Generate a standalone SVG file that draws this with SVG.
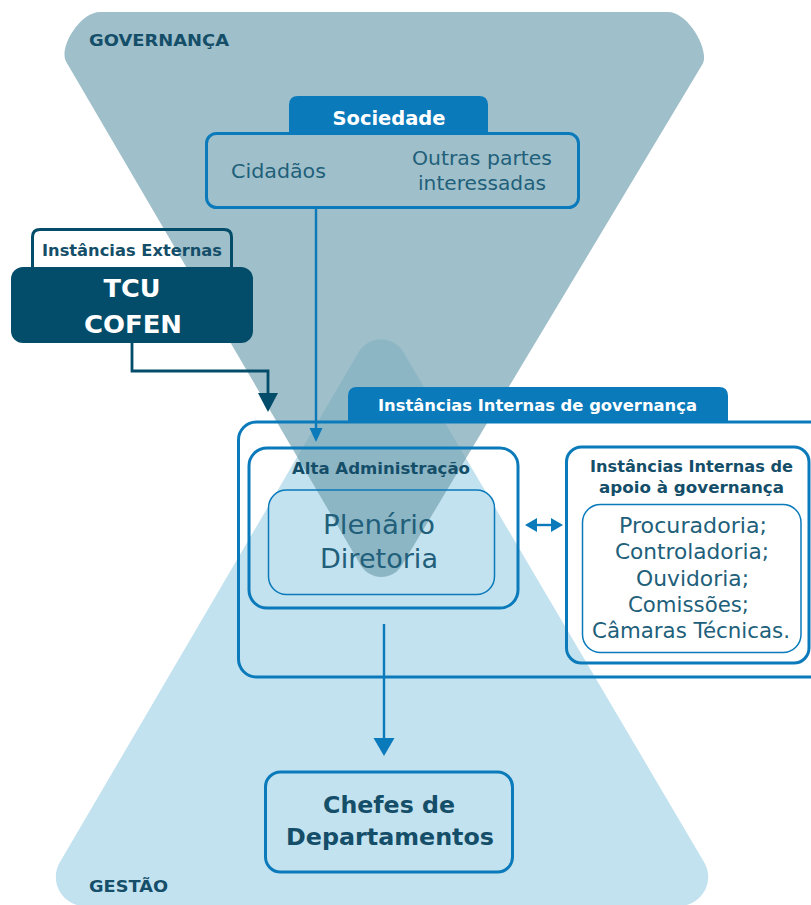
<svg xmlns="http://www.w3.org/2000/svg" width="811" height="905" viewBox="0 0 811 905">
<style>
.box{fill:none;stroke:#0a7abb;stroke-width:3}
.thin{stroke-width:1.5}
.tab{fill:#0a7abb}
.dk{fill:#034d6a}
.t{font-family:"DejaVu Sans","Liberation Sans",sans-serif;text-anchor:middle}
.bd{font-weight:bold}
.w{fill:#ffffff}
.c1{fill:#144e69}
.c2{fill:#215f7a}
.ln{fill:none;stroke:#0a7abb;stroke-width:2.4}
.lnd{fill:none;stroke:#034d6a;stroke-width:2.8}
.ah{fill:#0a7abb}
</style>
<rect width="811" height="905" fill="#ffffff"/>
<g id="funnels">
<path id="gestao-funnel" d="M358.5,352.3 L60,862 A29,29 0 0 0 86,906 L679,906 A29,29 0 0 0 704,862 L403.5,352.3 A26,26 0 0 0 358.5,352.3 Z" fill="#c3e2ef"/>
<rect x="268.5" y="490" width="226" height="104.5" rx="18" fill="#c3e2ef"/>
<rect x="582.5" y="504.5" width="218.5" height="148" rx="18" fill="#ffffff"/>
<path id="governanca-funnel" d="M100,12 L668,12 C688,12 710,50 702.6,64 L401.6,565.7 A24,24 0 0 1 360.8,565.5 L66.3,62 C58,48 80,12 100,12 Z" fill="#76a4b3" fill-opacity="0.7"/>
<text class="t bd c1" x="89" y="46" font-size="16.5" text-anchor="start" style="text-anchor:start" textLength="140" lengthAdjust="spacingAndGlyphs">GOVERNANÇA</text>
<text class="t bd c1" x="89" y="892" font-size="16.5" style="text-anchor:start" textLength="79" lengthAdjust="spacingAndGlyphs">GESTÃO</text>
</g>
<g id="connectors">
<polyline class="lnd" points="132,343 132,371 268,371 268,396"/>
<polygon class="dk" points="258,393 278,393 268,412"/>
<line class="ln" x1="316" y1="208" x2="316" y2="430"/>
<polygon class="ah" points="309.5,428 322.5,428 316,442"/>
<line class="ln" x1="533" y1="525" x2="555" y2="525" stroke-width="3"/>
<polygon class="ah" points="525,525 537,518 537,532"/>
<polygon class="ah" points="563,525 551,518 551,532"/>
<line class="ln" x1="384" y1="624" x2="384" y2="741" stroke-width="3"/>
<polygon class="ah" points="373.5,738 394.5,738 384,756"/>
</g>
<g id="sociedade">
<path class="tab" d="M289,134 V105 Q289,96 298,96 H479 Q488,96 488,105 V134 Z"/>
<rect class="box" x="206.5" y="133.5" width="372" height="74" rx="10"/>
<text class="t bd w" x="389" y="125" font-size="19.5" textLength="113" lengthAdjust="spacingAndGlyphs">Sociedade</text>
<text class="t c2" x="278.5" y="178" font-size="19" textLength="95" lengthAdjust="spacingAndGlyphs">Cidadãos</text>
<text class="t c2" x="482" y="165" font-size="19" textLength="140" lengthAdjust="spacingAndGlyphs">Outras partes</text>
<text class="t c2" x="482" y="190" font-size="19" textLength="128" lengthAdjust="spacingAndGlyphs">interessadas</text>
</g>
<g id="instancias-externas">
<path d="M32.5,268 V237 Q32.5,229.5 40,229.5 H224 Q231.5,229.5 231.5,237 V268" fill="none" stroke="#034d6a" stroke-width="3"/>
<rect class="dk" x="11" y="267" width="242" height="76" rx="12"/>
<text class="t bd c1" x="132" y="256" font-size="15.5" textLength="180" lengthAdjust="spacingAndGlyphs">Instâncias Externas</text>
<text class="t bd w" x="132" y="297" font-size="25" textLength="57" lengthAdjust="spacingAndGlyphs">TCU</text>
<text class="t bd w" x="133" y="333" font-size="25" textLength="98" lengthAdjust="spacingAndGlyphs">COFEN</text>
</g>
<g id="instancias-internas">
<path class="tab" d="M348,423 V396 Q348,387 357,387 H719 Q728,387 728,396 V423 Z"/>
<rect class="box" x="238.5" y="422" width="590" height="255" rx="18"/>
<text class="t bd w" x="537.5" y="411" font-size="16" textLength="319" lengthAdjust="spacingAndGlyphs">Instâncias Internas de governança</text>
</g>
<g id="alta-administracao">
<rect class="box" x="249" y="448" width="269" height="160" rx="18"/>
<text class="t bd c1" x="381" y="474" font-size="15.5" textLength="178" lengthAdjust="spacingAndGlyphs">Alta Administração</text>
</g>
<g id="plenario-diretoria">
<rect class="box thin" x="268.5" y="490" width="226" height="104.5" rx="18"/>
<text class="t c2" x="379" y="534" font-size="26.5" textLength="112" lengthAdjust="spacingAndGlyphs">Plenário</text>
<text class="t c2" x="379" y="568" font-size="26.5" textLength="118" lengthAdjust="spacingAndGlyphs">Diretoria</text>
</g>
<g id="apoio-governanca">
<rect class="box" x="566.5" y="447" width="242.5" height="216" rx="15"/>
<text class="t bd c1" x="691.5" y="472" font-size="16" textLength="203" lengthAdjust="spacingAndGlyphs">Instâncias Internas de</text>
<text class="t bd c1" x="691.5" y="493" font-size="16" textLength="185" lengthAdjust="spacingAndGlyphs">apoio à governança</text>
</g>
<g id="orgaos-apoio">
<rect class="box thin" x="582.5" y="504.5" width="218.5" height="148" rx="18"/>
<text class="t c2" x="693" y="533" font-size="21" textLength="148" lengthAdjust="spacingAndGlyphs">Procuradoria;</text>
<text class="t c2" x="692" y="559" font-size="21" textLength="154" lengthAdjust="spacingAndGlyphs">Controladoria;</text>
<text class="t c2" x="692.5" y="586" font-size="21" textLength="113" lengthAdjust="spacingAndGlyphs">Ouvidoria;</text>
<text class="t c2" x="688.5" y="612" font-size="21" textLength="121" lengthAdjust="spacingAndGlyphs">Comissões;</text>
<text class="t c2" x="691" y="638" font-size="21" textLength="198" lengthAdjust="spacingAndGlyphs">Câmaras Técnicas.</text>
</g>
<g id="chefes-departamentos">
<rect class="box" x="265.5" y="772" width="247" height="100" rx="15" stroke-width="3.5"/>
<text class="t bd c1" x="389" y="813" font-size="23" textLength="132" lengthAdjust="spacingAndGlyphs">Chefes de</text>
<text class="t bd c1" x="390" y="845" font-size="23" textLength="208" lengthAdjust="spacingAndGlyphs">Departamentos</text>
</g>
</svg>
